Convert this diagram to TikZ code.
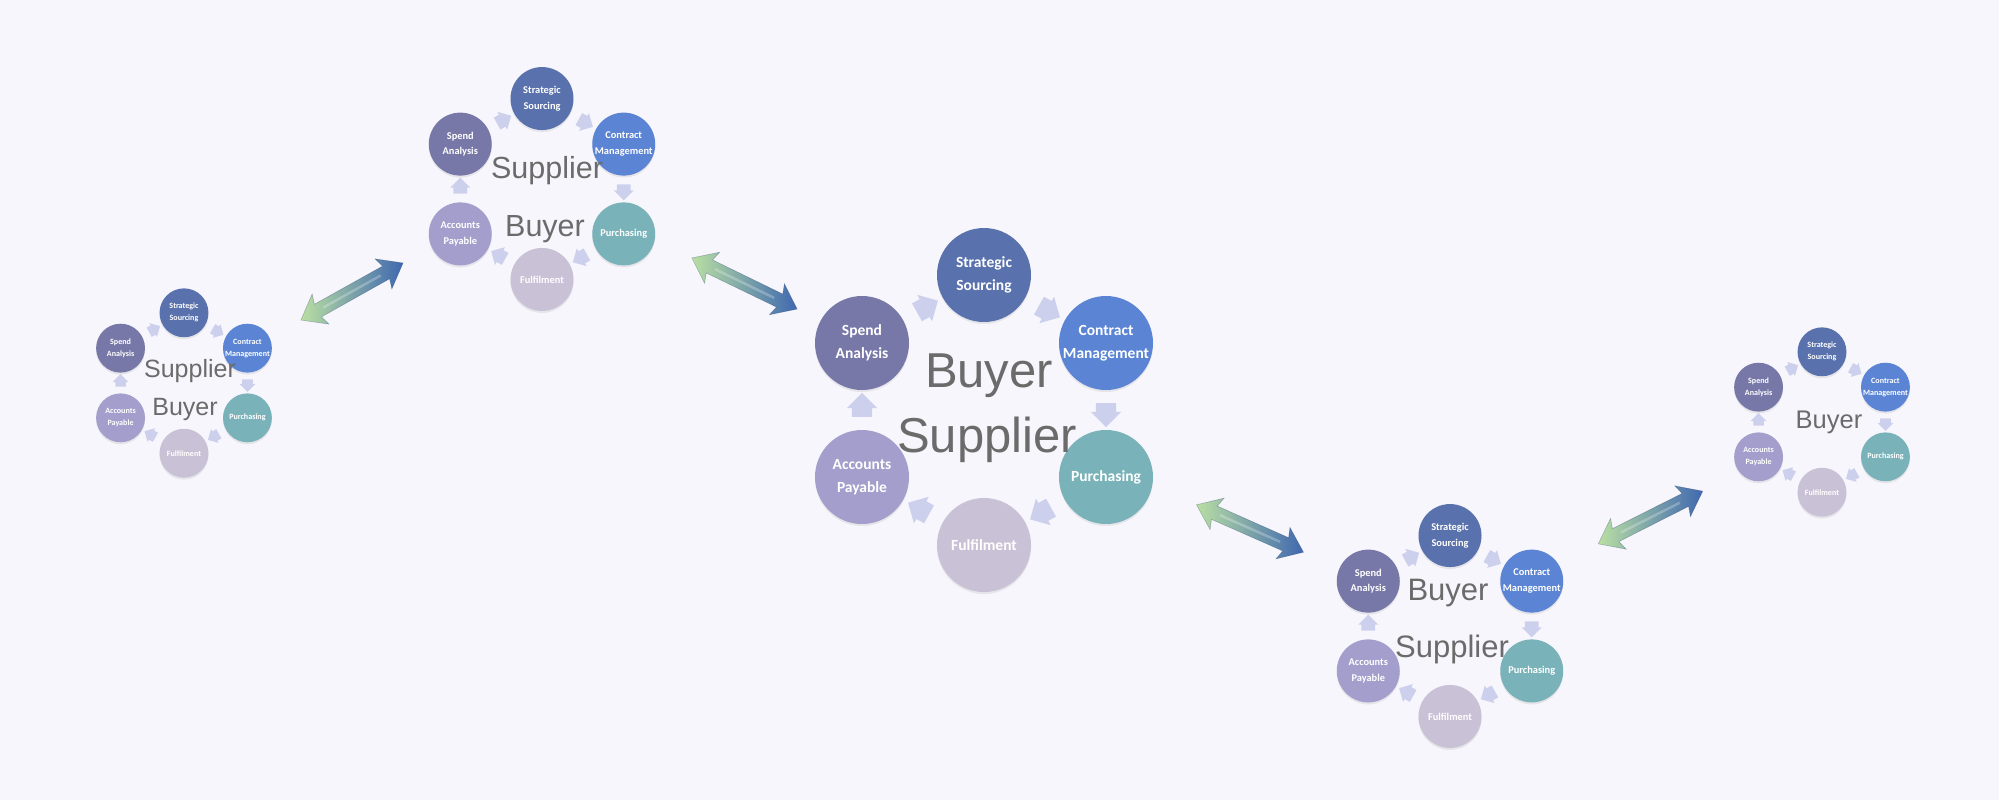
\documentclass[tikz,border=0pt]{standalone}
\usepackage{fontspec}
\setmainfont{Liberation Sans}
\newfontfamily\stagefont{Carlito}
\usetikzlibrary{shapes.arrows,shadows}

% colours
\definecolor{bgcol}{HTML}{F7F6FC}
\definecolor{sscol}{HTML}{5971AC}
\definecolor{cmcol}{HTML}{5B84D4}
\definecolor{pucol}{HTML}{79B3B9}
\definecolor{fucol}{HTML}{C9C1D5}
\definecolor{apcol}{HTML}{A39ECB}
\definecolor{sacol}{HTML}{7878A8}
\definecolor{flowcol}{HTML}{CDD0EC}
\definecolor{labelgray}{HTML}{6B6B6B}
\definecolor{arrgreen}{HTML}{B9DFA2}
\definecolor{arrteal}{HTML}{86C3CF}
\definecolor{arrblue}{HTML}{3F68B0}

\tikzset{
  stage/.style={circle, minimum size=94, inner sep=0, text=white, align=center,
    font=\stagefont\bfseries\fontsize{15.5}{23}\selectfont,
    drop shadow={opacity=0.15, shadow xshift=0pt, shadow yshift=-2pt}},
  flowarrow/.style={single arrow, fill=flowcol, minimum height=24, minimum width=30,
    single arrow head extend=5, inner xsep=0, inner ysep=10, sloped, allow upside down},
  dblarrow/.style={double arrow, minimum height=117, minimum width=34,
    double arrow head extend=10, double arrow tip angle=75, double arrow head indent=3,
    inner xsep=0, inner ysep=7,
    sloped, left color=arrgreen, middle color=arrteal, right color=arrblue,
    draw=arrblue!60!black, draw opacity=0.35, line width=0.5},
  shine/.style={white, opacity=0.25, line width=2.5, shorten <=26pt, shorten >=26pt},
  rolelabel/.style={text=labelgray, anchor=base, inner sep=0}
}

% one procurement cycle: #1 prefix, #2 centre, #3 scale
\newcommand{\salescycle}[3]{%
  \begin{scope}[shift={(#2)}, scale=#3, transform shape]
    \node[stage, fill=sscol] (#1ss) at (0,-135) {Strategic\\Sourcing};
    \node[stage, fill=cmcol] (#1cm) at (122,-67) {Contract\\Management};
    \node[stage, fill=pucol] (#1pu) at (122,67) {Purchasing};
    \node[stage, fill=fucol] (#1fu) at (0,135) {Fulfilment};
    \node[stage, fill=apcol] (#1ap) at (-122,67) {Accounts\\Payable};
    \node[stage, fill=sacol] (#1sa) at (-122,-67) {Spend\\Analysis};
    % arrows round the ring
    \path (#1sa) -- (#1ss) node[flowarrow, midway] (#1f1) {};
    \path (#1ss) -- (#1cm) node[flowarrow, midway] (#1f2) {};
    \path (#1cm) -- (#1pu) node[flowarrow, midway] (#1f3) {};
    \path (#1pu) -- (#1fu) node[flowarrow, midway] (#1f4) {};
    \path (#1fu) -- (#1ap) node[flowarrow, midway] (#1f5) {};
    \path (#1ap) -- (#1sa) node[flowarrow, midway] (#1f6) {};
  \end{scope}}

\begin{document}
\begin{tikzpicture}[x=1pt, y=-1pt]
    \useasboundingbox[fill=bgcol] (0,0) rectangle (1999,800);

    % the five cycles
    \salescycle{c1}{184,383}{0.52}
    \salescycle{c2}{542,189}{0.67}
    \salescycle{c3}{984,410}{1}
    \salescycle{c4}{1450,626}{0.67}
    \salescycle{c5}{1822,422}{0.52}

    % buyer / supplier labels
    \node[rolelabel, font=\fontsize{25}{25}\selectfont] (c1sup) at (190,377) {Supplier};
    \node[rolelabel, font=\fontsize{25}{25}\selectfont] (c1buy) at (185,415) {Buyer};
    \node[rolelabel, font=\fontsize{30.5}{30.5}\selectfont] (c2sup) at (547,178) {Supplier};
    \node[rolelabel, font=\fontsize{30.5}{30.5}\selectfont] (c2buy) at (545,236) {Buyer};
    \node[rolelabel, font=\fontsize{49}{49}\selectfont] (c3buy) at (989,387) {Buyer};
    \node[rolelabel, font=\fontsize{49}{49}\selectfont] (c3sup) at (987,452) {Supplier};
    \node[rolelabel, font=\fontsize{31}{31}\selectfont] (c4buy) at (1448,600) {Buyer};
    \node[rolelabel, font=\fontsize{31}{31}\selectfont] (c4sup) at (1452,657) {Supplier};
    \node[rolelabel, font=\fontsize{25.5}{25.5}\selectfont] (c5buy) at (1829,428) {Buyer};

    % links between the cycles
    \coordinate (g1) at (301,320);  \coordinate (b1) at (403,263);
    \coordinate (g2) at (692,258);  \coordinate (b2) at (797,309);
    \coordinate (g3) at (1197,505); \coordinate (b3) at (1303,552);
    \coordinate (g4) at (1598,544); \coordinate (b4) at (1703,491);
    \path (g1) -- (b1) node[dblarrow, midway] (ar1) {};
    \path (g2) -- (b2) node[dblarrow, midway] (ar2) {};
    \path (g3) -- (b3) node[dblarrow, midway] (ar3) {};
    \path (g4) -- (b4) node[dblarrow, midway] (ar4) {};
    \draw[shine] (ar1.tip 1) -- (ar1.tip 2);
    \draw[shine] (ar2.tip 1) -- (ar2.tip 2);
    \draw[shine] (ar3.tip 1) -- (ar3.tip 2);
    \draw[shine] (ar4.tip 1) -- (ar4.tip 2);
\end{tikzpicture}
\end{document}
